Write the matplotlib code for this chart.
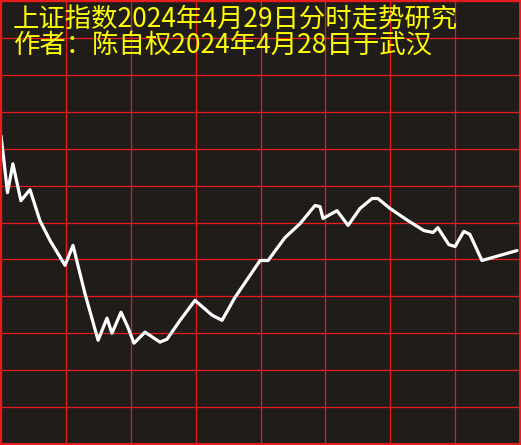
import matplotlib
matplotlib.use('agg')
import matplotlib.pyplot as plt
import numpy as np

# minutes after open (0..240) and level in grid rows (0 = bottom, 12 = top)
minutes = [0, 1, 3, 5.5, 9.2, 13.4, 18, 22.7, 29.6, 33.3, 38.8, 44.9, 49, 51.3,
           55.5, 58.7, 61.5, 66.6, 73.5, 76.8, 82.8, 89.7, 97.6, 102.2, 108.2,
           119.8, 123.5, 131.3, 138.3, 145.2, 147.5, 148.9, 155.4, 160.5, 166,
           171.6, 174.3, 179.9, 188.2, 195.6, 199.8, 202, 207.1, 210, 214,
           216.8, 222.4, 238.6]
level = [8.35, 7.86, 6.81, 7.59, 6.59, 6.89, 6.05, 5.51, 4.84, 5.38, 4.08, 2.81,
         3.41, 3.0, 3.57, 3.16, 2.73, 3.03, 2.76, 2.84, 3.35, 3.89, 3.49, 3.35,
         3.97, 4.97, 4.97, 5.59, 5.97, 6.46, 6.43, 6.11, 6.32, 5.92, 6.38, 6.65,
         6.65, 6.38, 6.05, 5.78, 5.73, 5.86, 5.4, 5.35, 5.76, 5.68, 4.97, 5.24]

title1 = '上证指数2024年4月29日分时走势研究'
title2 = '作者：陈自权2024年4月28日于武汉'

plt.rcParams['font.family'] = ['Noto Sans CJK SC', 'DejaVu Sans']

bg = '#201c1a'
red = '#e81c1c'

fig = plt.figure(figsize=(5.21, 4.45), dpi=100, facecolor=bg)
ax = fig.add_axes([1 / 521, 1 / 445, 519 / 521, 443 / 445])
ax.set_facecolor(bg)
ax.set_xlim(0, 240)
ax.set_ylim(0, 12)
ax.set_xticks(np.arange(0, 241, 30))
ax.set_yticks(np.arange(0, 13, 1))
ax.grid(True, color=red, linewidth=0.9)
ax.tick_params(length=0, labelbottom=False, labelleft=False)
for s in ax.spines.values():
    s.set_color(red)
    s.set_linewidth(1.5)

ax.plot(minutes, level, color='white', linewidth=2.3, solid_joinstyle='round',
        solid_capstyle='round')

fig.text(13 / 521, 1 - 6 / 445, title1, color='#ffff00', fontsize=19,
         ha='left', va='top', fontweight='light')
fig.text(13 / 521, 1 - 32 / 445, title2, color='#ffff00', fontsize=19,
         ha='left', va='top', fontweight='light')

fig.savefig('out.png', dpi=100, facecolor=bg)
